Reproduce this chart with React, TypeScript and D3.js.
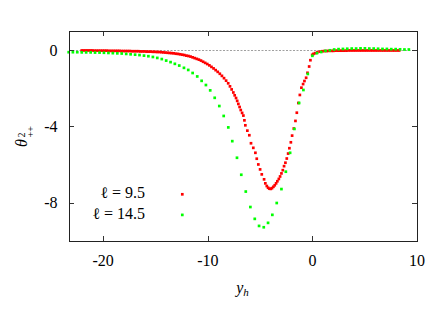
import React, { useEffect, useRef } from "react";
import * as d3 from "d3";

// l = 9.5 series as [y_h, theta]
const redPoints: [number, number][] = [
  [-22.05, -0.02], [-21.85, -0.02], [-21.65, -0.02], [-21.45, -0.02], [-21.25, -0.02], [-21.05, -0.02],
  [-20.85, -0.03], [-20.65, -0.03], [-20.45, -0.03], [-20.25, -0.03], [-20.05, -0.03], [-19.85, -0.03],
  [-19.65, -0.03], [-19.45, -0.04], [-19.25, -0.04], [-19.05, -0.04], [-18.85, -0.04], [-18.65, -0.04],
  [-18.45, -0.04], [-18.25, -0.05], [-18.05, -0.05], [-17.85, -0.05], [-17.65, -0.05], [-17.45, -0.05],
  [-17.25, -0.06], [-17.05, -0.06], [-16.85, -0.06], [-16.65, -0.06], [-16.45, -0.07], [-16.25, -0.07],
  [-16.05, -0.07], [-15.85, -0.08], [-15.65, -0.08], [-15.45, -0.08], [-15.25, -0.09], [-15.05, -0.09],
  [-14.85, -0.1], [-14.65, -0.1], [-14.45, -0.11], [-14.25, -0.12], [-14.05, -0.13], [-13.85, -0.14],
  [-13.65, -0.15], [-13.45, -0.16], [-13.25, -0.17], [-13.05, -0.19], [-12.85, -0.2], [-12.65, -0.22],
  [-12.45, -0.24], [-12.25, -0.26], [-12.05, -0.29], [-11.85, -0.31], [-11.65, -0.34], [-11.45, -0.38],
  [-11.25, -0.42], [-11.05, -0.46], [-10.85, -0.5], [-10.65, -0.55], [-10.45, -0.61], [-10.25, -0.67],
  [-10.05, -0.73], [-9.85, -0.8], [-9.65, -0.88], [-9.45, -0.96], [-9.25, -1.05], [-9.05, -1.14],
  [-8.85, -1.24], [-8.65, -1.35], [-8.45, -1.47], [-8.25, -1.6], [-8.05, -1.74], [-7.88, -1.9],
  [-7.72, -2.06], [-7.56, -2.22], [-7.43, -2.37], [-7.3, -2.51], [-7.19, -2.66], [-7.08, -2.82],
  [-6.96, -2.98], [-6.85, -3.14], [-6.72, -3.29], [-6.6, -3.43], [-6.5, -3.68], [-6.41, -3.94],
  [-6.22, -4.22], [-6.03, -4.46], [-5.87, -4.88], [-5.65, -5.12], [-5.45, -5.38], [-5.32, -5.69],
  [-5.17, -5.99], [-5.0, -6.25], [-4.84, -6.51], [-4.62, -6.77], [-4.5, -6.98], [-4.36, -7.12],
  [-4.24, -7.21], [-4.11, -7.26], [-3.98, -7.27], [-3.86, -7.23], [-3.73, -7.16], [-3.6, -7.08],
  [-3.47, -6.98], [-3.35, -6.87], [-3.21, -6.75], [-3.09, -6.62], [-2.96, -6.46], [-2.83, -6.29],
  [-2.71, -6.08], [-2.58, -5.9], [-2.45, -5.68], [-2.32, -5.42], [-2.2, -5.14], [-2.06, -4.83],
  [-1.94, -4.48], [-1.78, -4.11], [-1.62, -3.71], [-1.49, -3.28], [-1.34, -2.77], [-1.2, -2.35],
  [-1.05, -1.97], [-0.89, -1.78], [-0.76, -1.62], [-0.6, -1.45], [-0.47, -1.19], [-0.31, -0.86],
  [-0.19, -0.53], [-0.02, -0.25], [0.1, -0.2], [0.26, -0.16], [0.48, -0.11], [0.74, -0.08],
  [0.95, -0.06], [1.16, -0.05], [1.37, -0.05], [1.58, -0.04], [1.79, -0.04], [2.0, -0.04],
  [2.21, -0.03], [2.42, -0.03], [2.63, -0.03], [2.84, -0.03], [3.05, -0.03], [3.26, -0.03],
  [3.47, -0.02], [3.68, -0.02], [3.89, -0.02], [4.1, -0.02], [4.31, -0.02], [4.52, -0.02],
  [4.73, -0.02], [4.94, -0.02], [5.15, -0.02], [5.36, -0.02], [5.57, -0.02], [5.78, -0.02],
  [5.99, -0.02], [6.2, -0.02], [6.41, -0.02], [6.62, -0.02], [6.83, -0.02], [7.04, -0.02],
  [7.25, -0.02], [7.46, -0.02], [7.67, -0.02], [7.88, -0.02], [8.09, -0.02], [8.3, -0.02],
];

// l = 14.5 series
const greenPoints: [number, number][] = [
  [-23.3, -0.11], [-22.9, -0.11], [-22.48, -0.11], [-22.05, -0.12], [-21.63, -0.12], [-21.2, -0.12],
  [-20.78, -0.13], [-20.35, -0.13], [-19.93, -0.14], [-19.5, -0.15], [-19.08, -0.16], [-18.65, -0.17],
  [-18.23, -0.18], [-17.8, -0.2], [-17.38, -0.22], [-16.95, -0.24], [-16.53, -0.26], [-16.1, -0.29],
  [-15.68, -0.32], [-15.25, -0.36], [-14.83, -0.41], [-14.4, -0.47], [-13.98, -0.55], [-13.56, -0.63],
  [-13.15, -0.72], [-12.73, -0.81], [-12.28, -0.93], [-11.87, -1.04], [-11.45, -1.2], [-11.01, -1.38],
  [-10.59, -1.61], [-10.18, -1.83], [-9.77, -2.11], [-9.34, -2.5], [-8.9, -2.93], [-8.48, -3.45],
  [-8.04, -4.05], [-7.66, -4.77], [-7.21, -5.64], [-6.8, -6.53], [-6.37, -7.41], [-5.93, -8.22],
  [-5.51, -8.84], [-5.1, -9.21], [-4.65, -9.28], [-4.24, -9.05], [-3.83, -8.63], [-3.41, -8.01],
  [-2.96, -7.28], [-2.54, -6.37], [-2.13, -5.38], [-1.72, -4.13], [-1.27, -2.77], [-0.86, -2.09],
  [-0.44, -1.25], [0.0, -0.3], [0.43, -0.16], [0.84, -0.1], [1.25, -0.04], [1.67, -0.01],
  [2.08, 0.03], [2.5, 0.05], [2.92, 0.06], [3.33, 0.07], [3.76, 0.08], [4.18, 0.08],
  [4.6, 0.09], [5.02, 0.09], [5.44, 0.08], [5.86, 0.08], [6.28, 0.07], [6.7, 0.06],
  [7.12, 0.06], [7.54, 0.05], [7.96, 0.05], [8.38, 0.04], [8.8, 0.03], [9.22, 0.03],
];

const xTicks = [-20, -10, 0, 10];
const yTicks = [0, -4, -8];
const legendLabels = ["\u2113 = 9.5", "\u2113 = 14.5"];
const seriesColors = ["#ff0000", "#00ff00"];

const App = () => {
  const ref = useRef<SVGSVGElement>(null);

  useEffect(() => {
    const width = 436, height = 312;
    const margin = { top: 31, right: 19, bottom: 71, left: 69 };
    const svg = d3.select(ref.current);
    svg.selectAll("*").remove();
    svg.append("rect").attr("width", width).attr("height", height).attr("fill", "#fff");

    const x = d3.scaleLinear().domain([-23.27, 10]).range([margin.left, width - margin.right]);
    const y = d3.scaleLinear().domain([-10, 1]).range([height - margin.bottom, margin.top]);
    const font = "Liberation Serif";

    // zero axis (dotted)
    svg.append("line")
      .attr("x1", x.range()[0]).attr("x2", x.range()[1])
      .attr("y1", Math.round(y(0)) + 0.5).attr("y2", Math.round(y(0)) + 0.5)
      .attr("stroke", "#a0a0a0").attr("stroke-width", 1)
      .attr("stroke-dasharray", "2,1.5");

    const tickLen = 5;
    const g = svg.append("g").attr("stroke", "#333").attr("stroke-width", 1);
    xTicks.forEach(t => {
      const px = Math.round(x(t)) + 0.5;
      g.append("line").attr("x1", px).attr("x2", px).attr("y1", y.range()[0]).attr("y2", y.range()[0] - tickLen);
      g.append("line").attr("x1", px).attr("x2", px).attr("y1", y.range()[1]).attr("y2", y.range()[1] + tickLen);
    });
    yTicks.forEach(t => {
      const py = Math.round(y(t)) + 0.5;
      g.append("line").attr("x1", x.range()[0]).attr("x2", x.range()[0] + tickLen).attr("y1", py).attr("y2", py);
      g.append("line").attr("x1", x.range()[1]).attr("x2", x.range()[1] - tickLen).attr("y1", py).attr("y2", py);
    });

    // tick labels
    svg.append("g").selectAll("text").data(xTicks).join("text")
      .attr("x", d => x(d)).attr("y", 265.5)
      .attr("text-anchor", "middle").style("font-family", font).style("font-size", "16px")
      .attr("fill", "#000").text(d => String(d));
    svg.append("g").selectAll("text").data(yTicks).join("text")
      .attr("x", 57.5).attr("y", d => y(d) + 5.5)
      .attr("text-anchor", "end").style("font-family", font).style("font-size", "16px")
      .attr("fill", "#000").text(d => String(d));

    // points
    const sz = 2.7;
    [redPoints, greenPoints].forEach((pts, i) => {
      svg.append("g").selectAll("rect").data(pts).join("rect")
        .attr("x", d => x(d[0]) - sz / 2).attr("y", d => y(d[1]) - sz / 2)
        .attr("width", sz).attr("height", sz).attr("fill", seriesColors[i]);
    });

    // legend
    legendLabels.forEach((lab, i) => {
      const by = 198.3 + i * 20.6;
      svg.append("text").attr("x", 145).attr("y", by)
        .attr("text-anchor", "end").style("font-family", font).style("font-size", "16px")
        .attr("fill", "#000").text(lab);
      svg.append("rect").attr("x", 182.3 - sz / 2).attr("y", by - 4 - sz / 2)
        .attr("width", sz).attr("height", sz).attr("fill", seriesColors[i]);
    });

    // frame
    svg.append("rect")
      .attr("x", x.range()[0] + 0.5).attr("y", y.range()[1] + 0.5)
      .attr("width", x.range()[1] - x.range()[0]).attr("height", y.range()[0] - y.range()[1])
      .attr("fill", "none").attr("stroke", "#222").attr("stroke-width", 1);

    // axis labels
    const xl = svg.append("text").attr("x", 242.5).attr("y", 292.5)
      .attr("text-anchor", "middle").style("font-family", font).attr("fill", "#000");
    xl.append("tspan").style("font-size", "16px").style("font-style", "italic").text("y");
    xl.append("tspan").style("font-size", "11px").style("font-style", "italic").attr("dy", 3.5).text("h");

    const yl = svg.append("g").attr("transform", "translate(25,141) rotate(-90)")
      .style("font-family", font).attr("fill", "#000");
    yl.append("text").attr("x", -6).attr("y", 2).style("font-size", "16px").style("font-style", "italic").text("\u03b8");
    yl.append("text").attr("x", 3.5).attr("y", -0.5).style("font-size", "10px").text("2");
    yl.append("text").attr("x", 3.5).attr("y", 8.5).style("font-size", "10px").text("++");
  }, []);

  return (
    <svg ref={ref} width={436} height={312}
      style={{ position: "absolute", left: 0, top: 0, display: "block" }} />
  );
};

export default App;
